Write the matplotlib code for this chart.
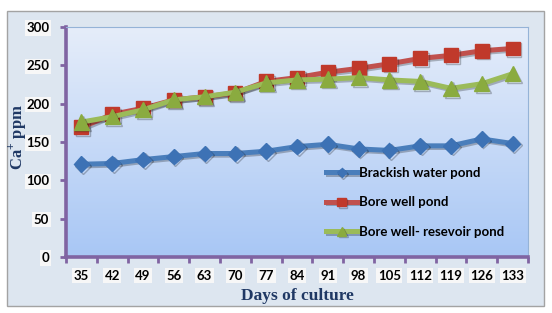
import matplotlib

matplotlib.use("Agg")
import matplotlib.pyplot as plt
import matplotlib.patheffects as pe
import numpy as np
from matplotlib.patches import Rectangle

days = [35, 42, 49, 56, 63, 70, 77, 84, 91, 98, 105, 112, 119, 126, 133]
brackish = [121, 122, 127, 131, 135, 135, 138, 144, 147, 141, 139, 145, 145, 154, 148]
bore_well = [169, 186, 194, 205, 209, 214, 229, 234, 241, 246, 252, 259, 263, 269, 272]
bore_resv = [176, 183, 192, 205, 209, 215, 227, 231, 232, 234, 231, 229, 220, 226, 239]
y_ticks = [0, 50, 100, 150, 200, 250, 300]

plt.rcParams["mathtext.fontset"] = "custom"
plt.rcParams["mathtext.rm"] = "Liberation Serif:bold"
plt.rcParams["mathtext.bf"] = "Liberation Serif:bold"

W, H = 552, 313
fig = plt.figure(figsize=(W / 100, H / 100), dpi=100)
fig.patch.set_facecolor("white")

# outer chart frame
frame = Rectangle((7 / W, 1 - 306 / H), (544 - 7) / W, (306 - 11) / H,
                  transform=fig.transFigure, facecolor="#dde6f0",
                  edgecolor="#a3a3a3", lw=1.0, zorder=-5)
fig.patches.append(frame)

ax = fig.add_axes([66 / W, 1 - 257 / H, (528 - 66) / W, (257 - 27) / H])
ax.set_zorder(2)
ax.set_facecolor("none")

x = np.arange(len(days))
ax.set_xlim(-0.5, len(days) - 0.5)
ax.set_ylim(0, 300)

# vertical gradient for the plot area
grad = np.linspace(0, 1, 256)[:, None]
top = np.array([0.90, 0.93, 0.98])
bot = np.array([0.66, 0.78, 0.96])
img = top + (bot - top) * grad[..., None]
ax.imshow(img, extent=[-0.5, len(days) - 0.5, 0, 300], origin="upper",
          aspect="auto", zorder=0)

shadow = [pe.SimpleLineShadow(offset=(1.2, -1.2), alpha=0.25), pe.Normal()]
ax.plot(x, brackish, color="#4a7ebb", lw=3.6, marker="D", ms=8,
        mfc="#3d72b5", mec="#3d72b5", label="Brackish water pond",
        zorder=3, path_effects=shadow)
ax.plot(x, bore_well, color="#c0504d", lw=3.6, marker="s", ms=10,
        mfc="#c0392b", mec="#c0392b", label="Bore well pond",
        zorder=3, path_effects=shadow)
ax.plot(x, bore_resv, color="#9bbb59", lw=3.6, marker="^", ms=11,
        mfc="#8aab3f", mec="#8aab3f", label="Bore well- resevoir pond",
        zorder=4, path_effects=shadow)

for s in ["top", "right"]:
    ax.spines[s].set_color("#95b3d7")
    ax.spines[s].set_linewidth(0.8)
for s in ["left", "bottom"]:
    ax.spines[s].set_color("#8064a2")
    ax.spines[s].set_linewidth(2.6)

ax.set_yticks(y_ticks)
ax.set_xticks(x)
ax.set_xticklabels([str(d) for d in days])
ax.set_xticks(np.arange(len(days) + 1) - 0.5, minor=True)
ax.tick_params(axis="y", length=4, width=2, color="#8064a2", pad=8)
ax.tick_params(axis="x", which="major", length=0, pad=9)
ax.tick_params(axis="x", which="minor", length=4, width=2, color="#8064a2")

box = dict(boxstyle="square,pad=0.12", fc="#f7f7f7", ec="none")
for t in ax.get_xticklabels() + ax.get_yticklabels():
    t.set_fontfamily("Lato")
    t.set_fontweight("bold")
    t.set_fontsize(9.5)
    t.set_bbox(box)

ax.set_ylabel("Ca$^{+}$ ppm", fontfamily="Liberation Serif", fontweight="bold",
              fontsize=12, color="#1f3864")
ax.yaxis.set_label_coords(-38 / 462, 0.52)
ax.set_xlabel("Days of culture", fontfamily="Liberation Serif", fontweight="bold",
              fontsize=12.5, color="#1f3864")
ax.xaxis.set_label_coords(0.5, -31 / 230)

leg = ax.legend(loc="upper left", bbox_to_anchor=(326 / W, 1 - 167 / H),
                bbox_transform=fig.transFigure, frameon=False, borderpad=0,
                borderaxespad=0,
                prop={"family": "Lato", "weight": "bold", "size": 9.5},
                handlelength=2.35, handletextpad=0.15, labelspacing=1.32,
                markerscale=0.6)

fig.savefig("out.png", dpi=100)
